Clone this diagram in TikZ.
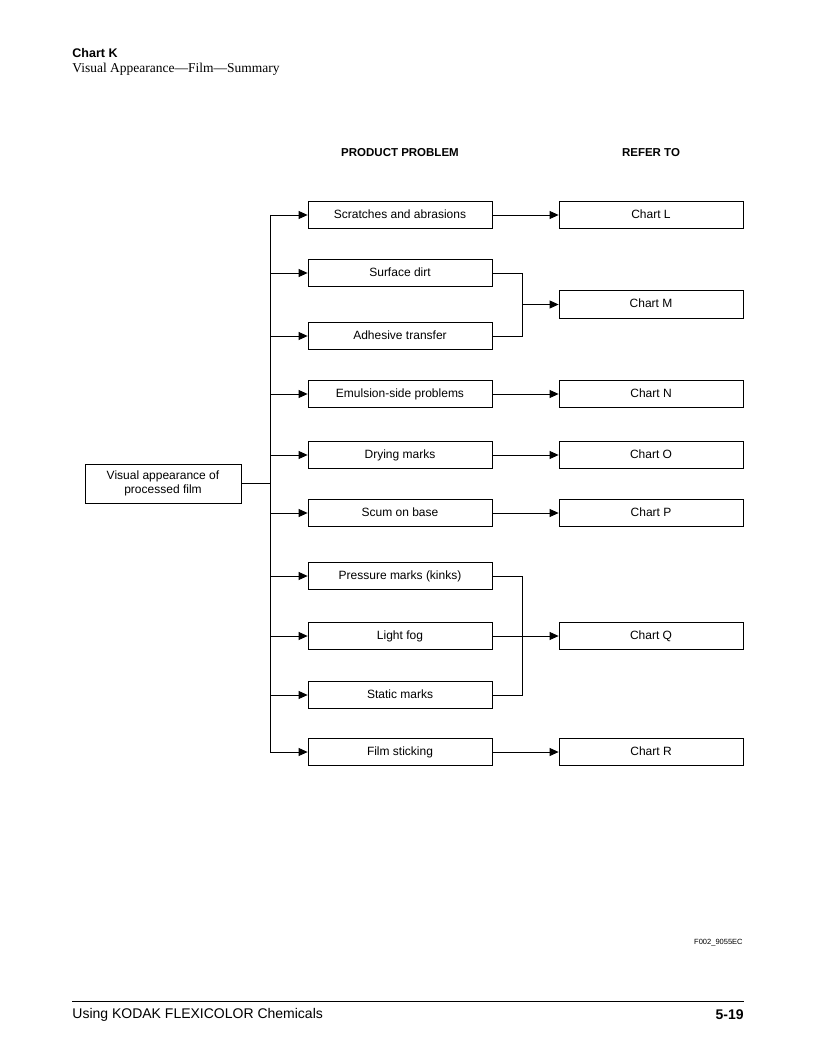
\documentclass[tikz,border=0pt]{standalone}
\usepackage{fontspec}
\setmainfont{Liberation Serif}
\setsansfont{Liberation Sans}
\usetikzlibrary{arrows.meta, calc, positioning}

\begin{document}
\begin{tikzpicture}[
    x=1pt, y=-1pt,
    line width=0.8pt,
    flow/.style={-{Triangle[length=9pt, width=8pt]}},
    probbox/.style={draw, minimum width=184pt, minimum height=27.5pt, inner sep=0pt,
                    text height=8.6pt, text depth=2.4pt,
                    font=\sffamily\fontsize{12}{13}\selectfont},
    chartbox/.style={probbox},
    colhead/.style={font=\sffamily\bfseries\fontsize{11.5}{13}\selectfont},
]
\useasboundingbox (0,0) rectangle (816,1056);
% header
\node[anchor=west, inner sep=0pt, font=\sffamily\bfseries\fontsize{12.5}{14}\selectfont] (title) at (72,53) {Chart K};
\node[anchor=west, inner sep=0pt, font=\fontsize{13.5}{15}\selectfont] (subtitle) at (72,69) {Visual Appearance---Film---Summary};
\node[colhead] (probhead) at (400,153) {PRODUCT PROBLEM};
\node[colhead] (referhead) at (651,153) {REFER TO};
% root
\node[draw, minimum width=156pt, minimum height=39pt, inner sep=0pt, align=center,
      font=\sffamily\fontsize{12}{14}\selectfont] (root) at (163,483.5)
   {Visual appearance of\\processed film};
% problems
\node[probbox] (scratch) at (400,215) {Scratches and abrasions};
\node[probbox] (dirt) at (400,273) {Surface dirt};
\node[probbox] (adhesive) at (400,336) {Adhesive transfer};
\node[probbox] (emulsion) at (400,394) {Emulsion-side problems};
\node[probbox] (drying) at (400,455) {Drying marks};
\node[probbox] (scum) at (400,513) {Scum on base};
\node[probbox] (pressure) at (400,576) {Pressure marks (kinks)};
\node[probbox] (fog) at (400,636) {Light fog};
\node[probbox] (static) at (400,695) {Static marks};
\node[probbox] (sticking) at (400,752) {Film sticking};
% charts
\node[chartbox] (chartL) at (651,215) {Chart L};
\node[chartbox] (chartM) at (651,304.5) {Chart M};
\node[chartbox] (chartN) at (651,394) {Chart N};
\node[chartbox] (chartO) at (651,455) {Chart O};
\node[chartbox] (chartP) at (651,513) {Chart P};
\node[chartbox] (chartQ) at (651,636) {Chart Q};
\node[chartbox] (chartR) at (651,752) {Chart R};
% bus
\coordinate (bustop) at (270,215);
\coordinate (busbot) at (270,752);
\draw (bustop) -- (busbot);
\draw (root.east) -- (root.east -| bustop);
\draw[flow] (bustop |- scratch.west) -- (scratch.west);
\draw[flow] (bustop |- dirt.west) -- (dirt.west);
\draw[flow] (bustop |- adhesive.west) -- (adhesive.west);
\draw[flow] (bustop |- emulsion.west) -- (emulsion.west);
\draw[flow] (bustop |- drying.west) -- (drying.west);
\draw[flow] (bustop |- scum.west) -- (scum.west);
\draw[flow] (bustop |- pressure.west) -- (pressure.west);
\draw[flow] (bustop |- fog.west) -- (fog.west);
\draw[flow] (bustop |- static.west) -- (static.west);
\draw[flow] (busbot) -- (sticking.west);
% to charts
\coordinate (jM) at (522,304.5);
\coordinate (jQ) at (522,636);
\draw[flow] (scratch.east) -- (chartL.west);
\draw (dirt.east) -| (jM);
\draw (adhesive.east) -| (jM);
\draw[flow] (jM) -- (chartM.west);
\draw[flow] (emulsion.east) -- (chartN.west);
\draw[flow] (drying.east) -- (chartO.west);
\draw[flow] (scum.east) -- (chartP.west);
\draw (pressure.east) -| (jQ);
\draw (static.east) -| (jQ);
\draw[flow] (fog.east) -- (chartQ.west);
\draw[flow] (sticking.east) -- (chartR.west);
% footer
\node[anchor=east, inner sep=0pt, font=\sffamily\fontsize{7.5}{9}\selectfont] (figid) at (743,943) {F002\_9055EC};
\coordinate (ruleL) at (72,1001);
\coordinate (ruleR) at (744,1001);
\draw (ruleL) -- (ruleR);
\node[anchor=west, inner sep=0pt, font=\sffamily\fontsize{14}{16}\selectfont] (foottext) at (72,1015) {Using KODAK FLEXICOLOR Chemicals};
\node[anchor=east, inner sep=0pt, font=\sffamily\bfseries\fontsize{14}{16}\selectfont] (pageno) at (744,1015) {5-19};
\end{tikzpicture}
\end{document}
